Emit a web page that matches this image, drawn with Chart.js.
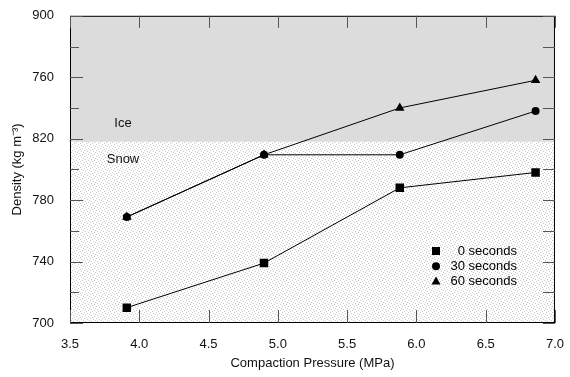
<!DOCTYPE html>
<html>
<head>
<meta charset="utf-8">
<script src="https://cdn.jsdelivr.net/npm/chart.js@4.4.1/dist/chart.umd.min.js"></script>
<style>
  html, body { margin: 0; padding: 0; background: #fff; }
  #wrap { width: 570px; height: 377px; }
</style>
</head>
<body>
<div id="wrap"><canvas id="densityChart" width="570" height="377"></canvas></div>
<script>
// Values
const pressures = [3.91, 4.9, 5.88, 6.86];
const density0s = [710, 739, 788, 798];
const density30s = [769, 809.5, 809.5, 838];
const density60s = [769, 809.5, 840, 858];
const iceLine = 818;
const seriesNames = ["0 seconds", "30 seconds", "60 seconds"];
// tick labels exactly as printed (the 860 tick is labelled 760 in the original)
const yTickLabels = ["700", "740", "780", "820", "760", "900"];
const xTickLabels = ["3.5", "4.0", "4.5", "5.0", "5.5", "6.0", "6.5", "7.0"];

const FONT = "'Liberation Sans', Arial, Helvetica, sans-serif";

function toPoints(ys) {
  return pressures.map((x, i) => ({ x: x, y: ys[i] }));
}

// stipple texture for the snow region
function makeStipple() {
  const c = document.createElement("canvas");
  c.width = 6;
  c.height = 6;
  const p = c.getContext("2d");
  p.fillStyle = "#fff";
  p.fillRect(0, 0, 6, 6);
  p.fillStyle = "#c8c8c8";
  [[0, 0], [3, 1], [1, 3], [4, 4], [5, 2], [2, 5]].forEach(([a, b]) => p.fillRect(a, b, 1, 1));
  return c;
}

const backgroundPlugin = {
  id: "iceSnow",
  beforeDatasetsDraw(chart) {
    const { ctx, chartArea: a, scales } = chart;
    const yIce = scales.y.getPixelForValue(iceLine);
    ctx.save();
    ctx.fillStyle = ctx.createPattern(makeStipple(), "repeat");
    ctx.fillRect(a.left, yIce, a.right - a.left, a.bottom - yIce);
    ctx.fillStyle = "#dcdcdc";
    ctx.fillRect(a.left, a.top, a.right - a.left, yIce - a.top);

    ctx.fillStyle = "#111";
    ctx.font = "13px " + FONT;
    ctx.textAlign = "center";
    ctx.textBaseline = "middle";
    ctx.fillText("Ice", 123, yIce - 18);
    ctx.fillText("Snow", 123, yIce + 18);

    // frame and inward ticks
    ctx.strokeStyle = "#000";
    ctx.lineWidth = 1;
    ctx.strokeRect(a.left + 0.5, a.top + 0.5, a.right - a.left - 1, a.bottom - a.top - 1);
    ctx.strokeStyle = "#555";
    ctx.beginPath();
    for (let v = 700; v <= 900; v += 20) {
      const py = Math.round(scales.y.getPixelForValue(v)) + 0.5;
      const len = (v - 700) % 40 === 0 ? 13 : 9;
      ctx.moveTo(a.left, py);
      ctx.lineTo(a.left + len, py);
      ctx.moveTo(a.right, py);
      ctx.lineTo(a.right - 12, py);
    }
    for (let v = 3.5; v <= 7.0001; v += 0.5) {
      const px = Math.round(scales.x.getPixelForValue(v)) + 0.5;
      ctx.moveTo(px, a.bottom);
      ctx.lineTo(px, a.bottom - 13);
      ctx.moveTo(px, a.top);
      ctx.lineTo(px, a.top + 12);
    }
    ctx.stroke();
    ctx.restore();
  },
};

function drawMarker(ctx, style, x, y) {
  ctx.beginPath();
  if (style === "rect") {
    ctx.rect(x - 4, y - 4, 8, 8);
  } else if (style === "circle") {
    ctx.arc(x, y, 4, 0, Math.PI * 2);
  } else {
    ctx.moveTo(x, y - 5);
    ctx.lineTo(x + 4.5, y + 3);
    ctx.lineTo(x - 4.5, y + 3);
    ctx.closePath();
  }
  ctx.fill();
}

const legendPlugin = {
  id: "insideLegend",
  afterDraw(chart) {
    const ctx = chart.ctx;
    ctx.save();
    ctx.fillStyle = "#000";
    ctx.font = "13px " + FONT;
    ctx.textAlign = "right";
    ctx.textBaseline = "middle";
    chart.data.datasets.forEach((ds, i) => {
      const y = 251 + i * 15.3;
      drawMarker(ctx, ds.pointStyle, 436, y);
      ctx.fillText(seriesNames[i], 517, y);
    });
    ctx.restore();
  },
};

function makeSeries(ys, style, radius) {
  return {
    data: toPoints(ys),
    showLine: true,
    borderColor: "#000",
    borderWidth: 1,
    backgroundColor: "#000",
    pointStyle: style,
    pointRadius: radius,
    pointHoverRadius: radius,
    pointBorderWidth: 0,
  };
}

const ctx = document.getElementById("densityChart").getContext("2d");
new Chart(ctx, {
  type: "scatter",
  data: {
    datasets: [
      makeSeries(density0s, "rect", 6),
      makeSeries(density30s, "circle", 4),
      makeSeries(density60s, "triangle", 5.5),
    ],
  },
  options: {
    responsive: false,
    animation: false,
    events: [],
    layout: { padding: { top: 13, right: 14, left: 0, bottom: 0 } },
    plugins: { legend: { display: false }, tooltip: { enabled: false } },
    scales: {
      x: {
        type: "linear",
        min: 3.5,
        max: 7.0,
        grid: { display: false },
        border: { display: false },
        ticks: {
          stepSize: 0.5,
          padding: 6,
          color: "#111",
          font: { family: FONT, size: 13 },
          callback: (v) => xTickLabels[Math.round((v - 3.5) / 0.5)],
          maxRotation: 0,
        },
        title: {
          display: true,
          text: "Compaction Pressure (MPa)",
          color: "#111",
          font: { family: FONT, size: 13 },
          padding: { top: 8, bottom: 6 },
        },
        afterFit(scale) { scale.height = 54; },
      },
      y: {
        type: "linear",
        min: 700,
        max: 900,
        grid: { display: false },
        border: { display: false },
        ticks: {
          stepSize: 40,
          padding: 8,
          color: "#111",
          font: { family: FONT, size: 13 },
          callback: (v) => yTickLabels[Math.round((v - 700) / 40)],
        },
        title: {
          display: true,
          text: "Density (kg m\u207B\u00B3)",
          color: "#111",
          font: { family: FONT, size: 13 },
          padding: { top: 10, bottom: 4 },
        },
        afterFit(scale) { scale.width = 70; },
      },
    },
  },
  plugins: [backgroundPlugin, legendPlugin],
});
</script>
</body>
</html>
